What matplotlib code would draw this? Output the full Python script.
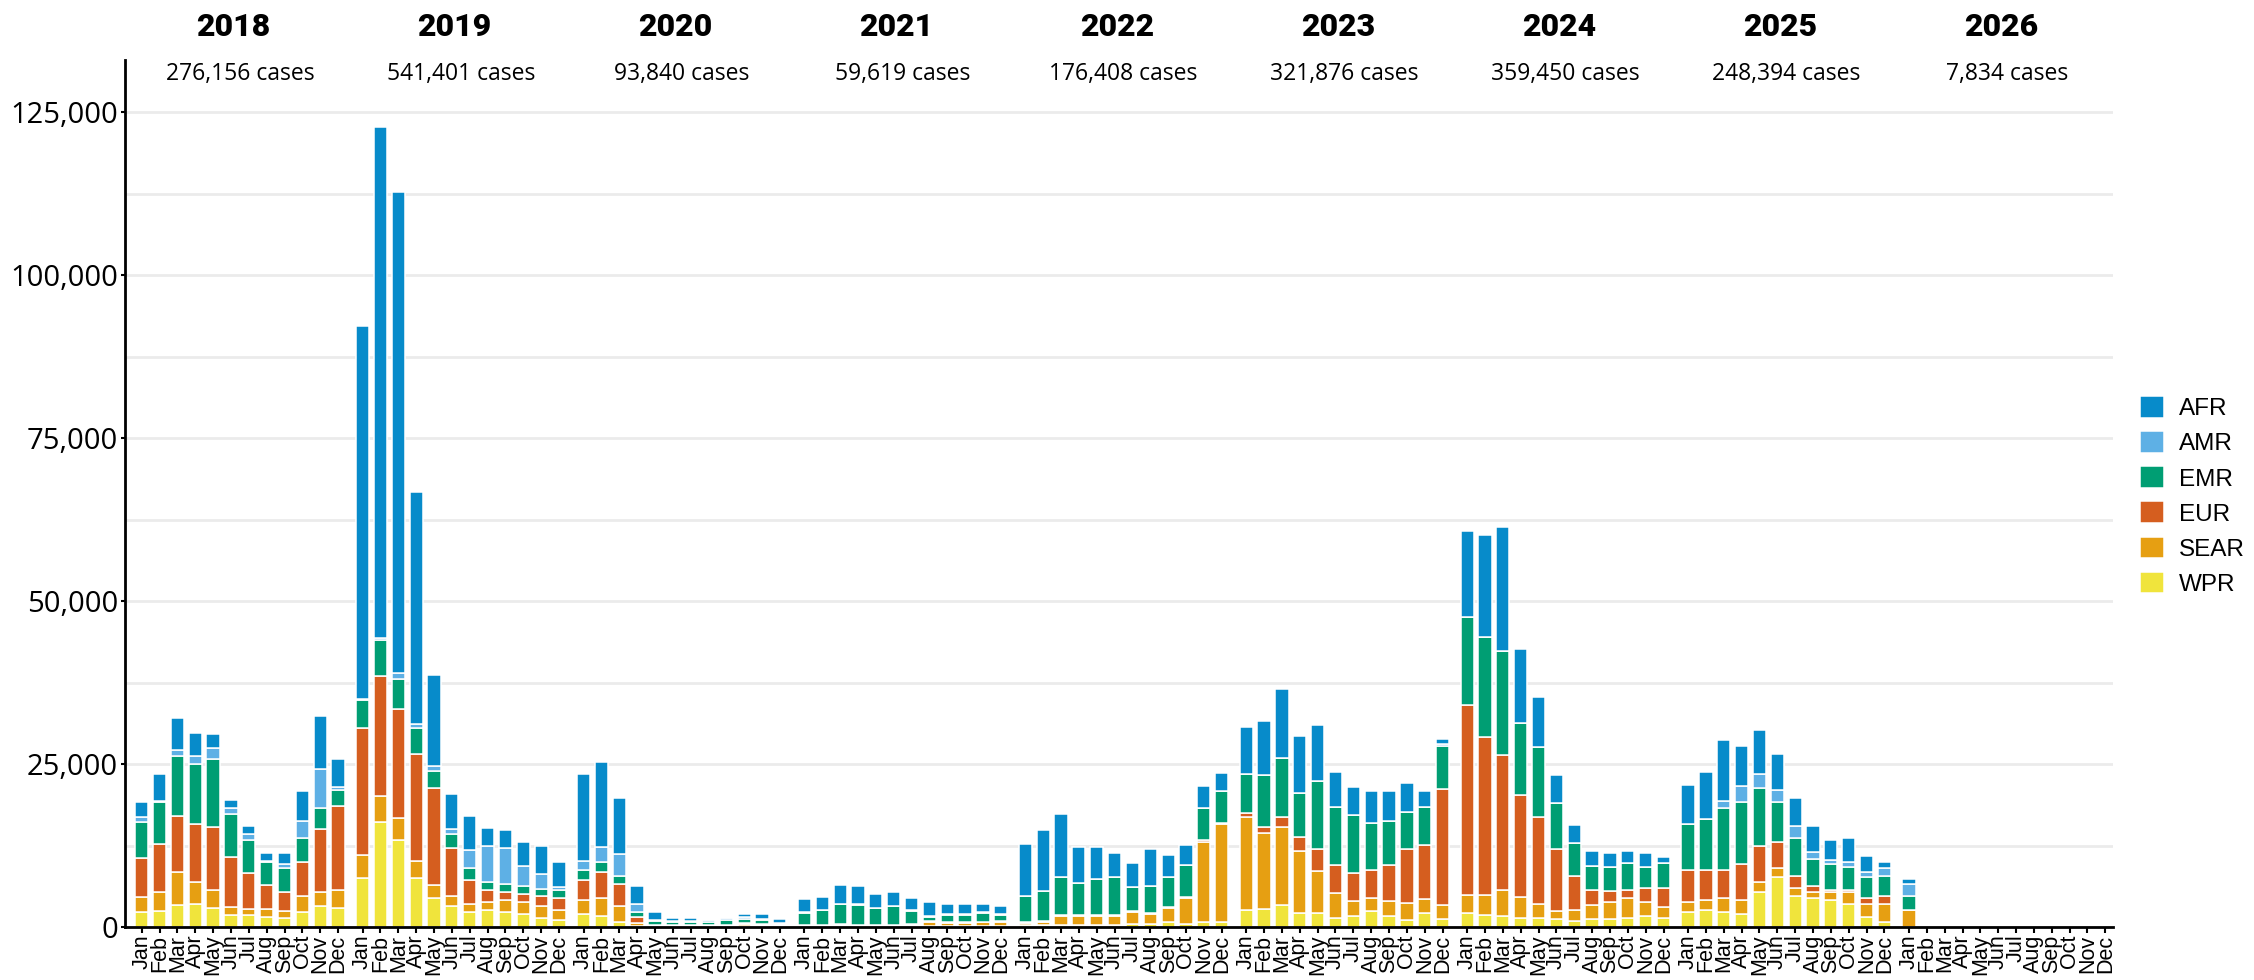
import numpy as np
import matplotlib
matplotlib.use("Agg")
import matplotlib.pyplot as plt
from matplotlib.transforms import blended_transform_factory

# ---------------- data (thousands of cases, Jan 2018 .. Jan 2026) ----------------
years = [2018, 2019, 2020, 2021, 2022, 2023, 2024, 2025, 2026]
months = ["Jan", "Feb", "Mar", "Apr", "May", "Jun", "Jul", "Aug", "Sep", "Oct", "Nov", "Dec"]
year_totals = [276156, 541401, 93840, 59619, 176408, 321876, 359450, 248394, 7834]

WPR = [2.25, 2.5, 3.4, 3.5, 2.9, 1.9, 1.9, 1.6, 1.4, 2.25, 3.2, 2.9,
       7.5, 16.05, 13.4, 7.5, 4.4, 3.2, 2.25, 2.56, 2.25, 1.95, 1.33, 1.0,
       1.95, 1.65, 0.8, 0.15, 0.1, 0.1, 0.1, 0.1, 0.1, 0.1, 0.1, 0.1,
       0.1, 0.1, 0.1, 0.1, 0.1, 0.1, 0.1, 0.15, 0.15, 0.2, 0.2, 0.2,
       0.3, 0.3, 0.35, 0.3, 0.35, 0.35, 0.5, 0.45, 0.75, 0.5, 0.7, 0.7,
       2.55, 2.7, 3.4, 2.15, 2.15, 1.4, 1.75, 2.4, 1.75, 1.1, 2.15, 1.2,
       2.1, 1.8, 1.65, 1.4, 1.4, 1.2, 0.9, 1.2, 1.2, 1.4, 1.65, 1.4,
       2.3, 2.6, 2.3, 2.0, 5.35, 7.7, 4.7, 4.45, 4.1, 3.55, 1.6, 0.7,
       0.05]
SEAR = [2.4, 2.8, 5.0, 3.35, 2.7, 1.2, 0.9, 1.2, 1.1, 2.45, 2.1, 2.7,
        3.6, 4.0, 3.3, 2.7, 2.1, 1.55, 1.25, 1.2, 1.85, 1.85, 1.85, 1.55,
        2.15, 2.75, 2.35, 0.4, 0.1, 0.1, 0.1, 0.1, 0.15, 0.3, 0.2, 0.1,
        0.15, 0.1, 0.25, 0.1, 0.1, 0.1, 0.25, 0.6, 0.5, 0.4, 0.5, 0.5,
        0.3, 0.4, 1.4, 1.45, 1.4, 1.4, 1.85, 1.6, 2.15, 4.0, 12.4, 15.1,
        14.25, 11.7, 11.9, 9.45, 6.4, 3.8, 2.25, 2.1, 2.25, 2.6, 2.15, 2.2,
        2.8, 3.1, 4.1, 3.15, 2.2, 1.2, 1.75, 2.1, 2.7, 3.1, 2.25, 1.6,
        1.5, 1.5, 2.15, 2.1, 1.55, 1.3, 1.3, 0.95, 1.2, 1.8, 1.9, 2.8,
        2.5]
EUR = [5.9, 7.4, 8.6, 8.9, 9.8, 7.7, 5.5, 3.7, 2.8, 5.2, 9.8, 12.9,
       19.4, 18.4, 16.8, 16.3, 14.8, 7.3, 3.7, 1.9, 1.2, 1.2, 1.5, 1.9,
       3.1, 4.0, 3.4, 1.05, 0.15, 0.1, 0.1, 0.1, 0.1, 0.2, 0.2, 0.1,
       0.05, 0.05, 0.05, 0.05, 0.05, 0.05, 0.05, 0.2, 0.1, 0.1, 0.1, 0.2,
       0.2, 0.2, 0.1, 0.1, 0.1, 0.1, 0.1, 0.05, 0.15, 0.1, 0.2, 0.2,
       0.7, 0.95, 1.6, 2.2, 3.4, 4.3, 4.25, 4.3, 5.5, 8.25, 8.25, 17.7,
       29.1, 24.2, 20.65, 15.65, 13.2, 9.5, 5.25, 2.45, 1.6, 1.25, 2.1, 3.0,
       4.9, 4.6, 4.25, 5.55, 5.5, 4.0, 1.8, 0.9, 0.35, 0.3, 0.95, 1.25,
       0.05]
EMR = [5.5, 6.4, 9.2, 9.3, 10.4, 6.5, 5.0, 3.4, 3.7, 3.7, 3.1, 2.5,
       4.3, 5.6, 4.6, 4.0, 2.7, 2.15, 1.8, 1.2, 1.3, 1.3, 1.2, 1.15,
       1.5, 1.5, 1.2, 0.75, 0.5, 0.4, 0.4, 0.4, 0.7, 0.6, 0.5, 0.2,
       1.85, 2.3, 3.1, 3.2, 2.6, 2.9, 2.1, 0.6, 1.15, 1.2, 1.4, 0.9,
       4.0, 4.6, 5.8, 4.85, 5.5, 5.8, 3.65, 4.25, 4.6, 4.9, 5.0, 4.9,
       6.0, 7.95, 9.1, 6.7, 10.4, 8.9, 8.95, 7.1, 6.7, 5.7, 5.85, 6.6,
       13.6, 15.4, 15.9, 11.1, 10.8, 7.1, 5.0, 3.65, 3.7, 4.05, 3.2, 3.8,
       7.1, 7.9, 9.5, 9.45, 8.9, 6.1, 5.8, 4.2, 3.95, 3.6, 3.25, 3.05,
       2.15]
AMR = [0.8, 0.3, 1.0, 1.2, 1.6, 1.0, 1.0, 0.3, 0.7, 2.7, 6.1, 0.5,
       0.2, 0.3, 0.8, 0.7, 0.7, 0.9, 2.8, 5.6, 5.5, 3.1, 2.2, 0.5,
       1.5, 2.3, 3.4, 1.15, 0.2, 0.15, 0.15, 0.3, 0.3, 0.3, 0.2, 0.1,
       0.2, 0.05, 0.05, 0.05, 0.05, 0.05, 0.1, 0.2, 0.1, 0.1, 0.1, 0.15,
       0.0, 0.0, 0.0, 0.0, 0.0, 0.0, 0.0, 0.0, 0.0, 0.0, 0.0, 0.0,
       0.0, 0.0, 0.0, 0.0, 0.0, 0.0, 0.0, 0.0, 0.0, 0.0, 0.0, 0.3,
       0.0, 0.0, 0.0, 0.0, 0.0, 0.0, 0.0, 0.0, 0.0, 0.0, 0.0, 0.0,
       0.0, 0.0, 1.2, 2.5, 2.1, 1.9, 1.85, 1.0, 0.65, 0.7, 0.7, 1.3,
       1.85]
AFR = [2.4, 4.1, 4.9, 3.45, 2.25, 1.2, 1.2, 1.15, 1.6, 4.5, 8.1, 4.2,
       57.2, 78.3, 73.9, 35.5, 13.9, 5.35, 5.3, 2.8, 2.8, 3.7, 4.4, 3.9,
       13.3, 13.1, 8.7, 2.8, 1.3, 0.6, 0.6, 0.15, 0.1, 0.5, 0.8, 0.6,
       1.9, 1.95, 2.85, 2.85, 2.2, 2.2, 1.9, 2.15, 1.6, 1.6, 1.3, 1.3,
       8.0, 9.45, 9.75, 5.55, 4.9, 3.7, 3.7, 5.6, 3.35, 3.05, 3.35, 2.65,
       7.15, 8.25, 10.45, 8.85, 8.6, 5.45, 4.25, 4.95, 4.65, 4.4, 2.45, 0.8,
       13.15, 15.65, 19.05, 11.35, 7.65, 4.3, 2.7, 2.3, 2.15, 1.9, 2.15, 0.95,
       6.05, 7.15, 9.3, 6.15, 6.8, 5.5, 4.35, 4.0, 3.15, 3.75, 2.5, 0.9,
       0.75]

regions = ["AFR", "AMR", "EMR", "EUR", "SEAR", "WPR"]
series = {"AFR": AFR, "AMR": AMR, "EMR": EMR, "EUR": EUR, "SEAR": SEAR, "WPR": WPR}
colors = {"AFR": "#078bca", "AMR": "#5eb0e5", "EMR": "#009e73",
          "EUR": "#d55e1f", "SEAR": "#e69f12", "WPR": "#f0e43c"}

# ---------------- figure ----------------
plt.rcParams['font.family'] = ['Open Sans', 'DejaVu Sans']
W, H = 2254, 980
fig = plt.figure(figsize=(W / 100, H / 100), dpi=100)
ax_left, ax_right, ax_top, ax_bottom = 125, 2113, 60, 927
ax = fig.add_axes([ax_left / W, 1 - ax_bottom / H,
                   (ax_right - ax_left) / W, (ax_bottom - ax_top) / H])

YEAR_STEP = 12.375
x_all = np.array([yi * YEAR_STEP + m for yi in range(len(years)) for m in range(12)])
n = len(WPR)
x = x_all[:n]

bottom = np.zeros(n)
handles = {}
for name in ["WPR", "SEAR", "EUR", "EMR", "AMR", "AFR"]:
    vals = np.array(series[name]) * 1000
    h = ax.bar(x, vals, bottom=bottom, width=0.74, color=colors[name],
               edgecolor="white", linewidth=1.1, zorder=3, label=name)
    handles[name] = h
    bottom += vals

# gridlines every 12,500
for gy in np.arange(12500, 130000, 12500):
    ax.axhline(gy, color="#ebebeb", lw=2, zorder=0)

ax.set_ylim(0, 133000)
ax.set_xlim(-0.935, 8 * YEAR_STEP + 11 + 0.43)

yt = np.arange(0, 125001, 25000)
ax.set_yticks(yt)
ax.set_yticklabels([f"{v:,}" for v in yt], fontsize=21, family=['Open Sans', 'DejaVu Sans'])
ax.set_xticks(x_all)
ax.set_xticklabels(months * len(years), rotation=90, fontsize=15.5,
                   family=['Liberation Sans', 'DejaVu Sans'])
ax.tick_params(axis="y", length=3, width=1.5, pad=2, colors="black")
ax.tick_params(axis="x", length=4, width=1.5, pad=1.5, colors="black")

for s in ["top", "right"]:
    ax.spines[s].set_visible(False)
for s in ["left", "bottom"]:
    ax.spines[s].set_linewidth(2)
    ax.spines[s].set_color("black")
    ax.spines[s].set_zorder(5)

# year headers
trans = blended_transform_factory(ax.transData, ax.transAxes)
for yi, (yr, tot) in enumerate(zip(years, year_totals)):
    cx = yi * YEAR_STEP + 5.5
    ax.text(cx - 0.35, 1.038, str(yr), transform=trans, ha="center", va="center",
            fontsize=23, fontweight="black", clip_on=False,
            family=['Roboto', 'DejaVu Sans'])
    ax.text(cx, 0.984, f"{tot:,} cases", transform=trans, ha="center", va="center",
            fontsize=16.5, clip_on=False, family=['Open Sans', 'DejaVu Sans'])

# legend
leg = fig.legend([handles[r] for r in regions], regions,
                 loc="center left", bbox_to_anchor=(2140 / W, 1 - 496 / H),
                 frameon=False, handlelength=1.0, handleheight=1.0,
                 handletextpad=0.6, labelspacing=0.45, borderpad=0, borderaxespad=0,
                 prop={'family': ['Liberation Sans', 'DejaVu Sans'], 'size': 17.5})

fig.savefig("out.png", dpi=100, facecolor="white")
